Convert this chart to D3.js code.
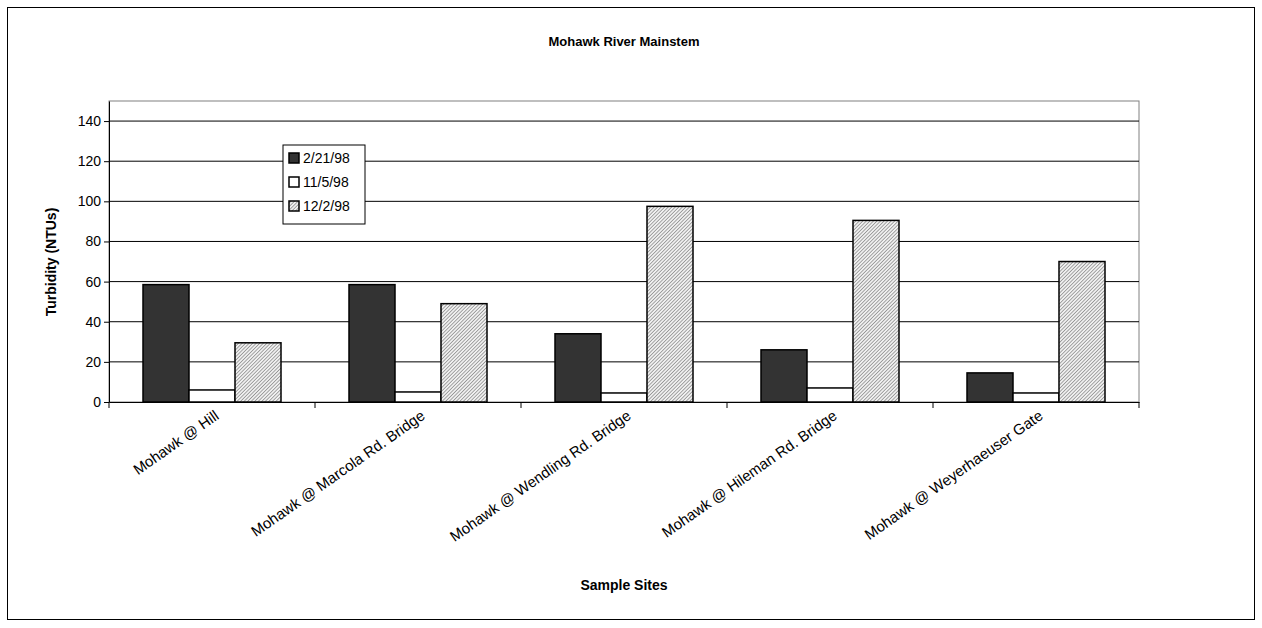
<!DOCTYPE html>
<html><head><meta charset="utf-8">
<script src="https://cdn.jsdelivr.net/npm/d3@7"></script>
<style>body{margin:0;background:#fff}text{font-family:Arial,"Liberation Sans",sans-serif}</style>
</head><body><div id="chart-area"></div>
<script>
var sites = ["Mohawk @ Hill", "Mohawk @ Marcola Rd. Bridge", "Mohawk @ Wendling Rd. Bridge", "Mohawk @ Hileman Rd. Bridge", "Mohawk @ Weyerhaeuser Gate"];
var seriesNames = ["2/21/98", "11/5/98", "12/2/98"];
var feb = [58.5, 58.5, 34, 26, 14.5];
var nov = [6, 5, 4.5, 7, 4.5];
var dec = [29.5, 49, 97.5, 90.5, 70];
var yTicks = [0, 20, 40, 60, 80, 100, 120, 140];

var series = [feb, nov, dec];
var fills = ["#333333", "#ffffff", "url(#hatch)"];

var svg = d3.select("#chart-area").append("svg").attr("width", 1262).attr("height", 628);
var defs = svg.append("defs");
var pat = defs.append("pattern").attr("id", "hatch").attr("patternUnits", "userSpaceOnUse")
  .attr("width", 2.5).attr("height", 2.5).attr("patternTransform", "rotate(45)");
pat.append("rect").attr("width", 2.5).attr("height", 2.5).attr("fill", "#f0f0f0");
pat.append("line").attr("x1", 0).attr("y1", 0).attr("x2", 0).attr("y2", 2.5).attr("stroke", "#666").attr("stroke-width", 1.1);

svg.append("rect").attr("x", 7.5).attr("y", 7.5).attr("width", 1247).attr("height", 612)
  .attr("fill", "#fff").attr("stroke", "#000");

var margin = {left: 109, top: 101};
var width = 1030, height = 301;
var g = svg.append("g").attr("transform", "translate(" + margin.left + "," + margin.top + ")");

var x = d3.scaleBand().domain(sites).range([0, width]);
var x1 = d3.scaleBand().domain(d3.range(3)).range([34, 172]);
var y = d3.scaleLinear().domain([0, 150]).range([height, 0]);

g.append("rect").attr("width", width).attr("height", height).attr("fill", "none").attr("stroke", "#808080");
g.selectAll(".grid").data(yTicks.slice(1)).enter().append("line")
  .attr("x1", 0).attr("x2", width).attr("y1", d => y(d)).attr("y2", d => y(d)).attr("stroke", "#000");

sites.forEach((s, i) => {
  g.selectAll(null).data(series).enter().append("rect")
    .attr("x", (d, k) => x(s) + x1(k)).attr("width", x1.bandwidth())
    .attr("y", d => y(d[i])).attr("height", d => y(0) - y(d[i]))
    .attr("fill", (d, k) => fills[k]).attr("stroke", "#000").attr("stroke-width", 1.5);
});

var yAxis = g.append("g").call(d3.axisLeft(y).tickValues(yTicks).tickSize(5).tickSizeOuter(0));
yAxis.select(".domain").attr("stroke", "#000");
yAxis.selectAll("text").attr("font-size", 14).attr("font-family", "Arial");
var xAxis = g.append("g").attr("transform", "translate(0," + height + ")")
  .call(d3.axisBottom(x).tickValues([]).tickSizeOuter(0));
g.selectAll(".xt").data(d3.range(6)).enter().append("line")
  .attr("x1", d => d * x.step()).attr("x2", d => d * x.step()).attr("y1", height).attr("y2", height + 6).attr("stroke", "#000");
g.selectAll(".xl").data(sites).enter().append("text")
  .attr("transform", d => "translate(" + (x(d) + x.bandwidth() / 2 + 8) + "," + (height + 16) + ") rotate(-35)")
  .attr("text-anchor", "end").attr("font-size", 15).text(d => d);

svg.append("text").attr("x", 624).attr("y", 46).attr("text-anchor", "middle").attr("font-size", 13).attr("font-weight", "bold").text("Mohawk River Mainstem");
svg.append("text").attr("x", 624).attr("y", 590).attr("text-anchor", "middle").attr("font-size", 14).attr("font-weight", "bold").text("Sample Sites");
svg.append("text").attr("transform", "translate(56,262) rotate(-90)").attr("text-anchor", "middle").attr("font-size", 14).attr("font-weight", "bold").text("Turbidity (NTUs)");

var leg = svg.append("g").attr("transform", "translate(283,145)");
leg.append("rect").attr("width", 82).attr("height", 79).attr("fill", "#fff").attr("stroke", "#000");
seriesNames.forEach((n, k) => {
  leg.append("rect").attr("x", 6).attr("y", 8 + k * 24).attr("width", 10).attr("height", 10)
    .attr("fill", fills[k]).attr("stroke", "#000").attr("stroke-width", 1.5);
  leg.append("text").attr("x", 20).attr("y", 18 + k * 24).attr("font-size", 14).text(n);
});
</script></body></html>
